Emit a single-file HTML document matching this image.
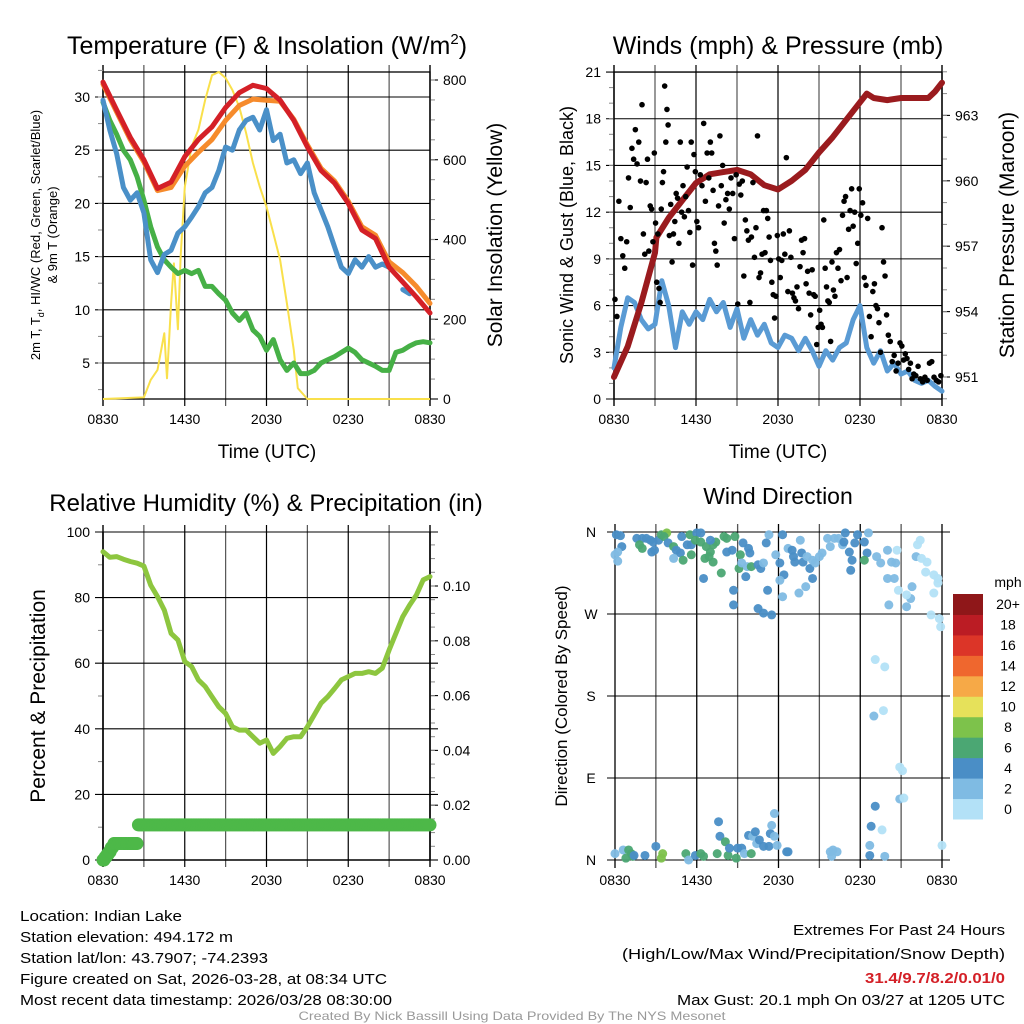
<!DOCTYPE html>
<html><head><meta charset="utf-8"><style>
html,body{margin:0;padding:0;background:#fff;}
svg{display:block;font-family:"Liberation Sans",sans-serif;}
</style></head><body>
<svg id="fig" width="1024" height="1024" viewBox="0 0 1024 1024" xmlns="http://www.w3.org/2000/svg">
<rect width="1024" height="1024" fill="#fff"/>
<g id="g1"></g>
<g id="g2"></g>
<g id="g3"></g>
<g id="g4"></g>
<g font-size="15" fill="#000">
<text x="20" y="921" textLength="162" lengthAdjust="spacingAndGlyphs">Location: Indian Lake</text>
<text x="20" y="942" textLength="213" lengthAdjust="spacingAndGlyphs">Station elevation: 494.172 m</text>
<text x="20" y="963" textLength="248" lengthAdjust="spacingAndGlyphs">Station lat/lon: 43.7907; -74.2393</text>
<text x="20" y="984" textLength="367" lengthAdjust="spacingAndGlyphs">Figure created on Sat, 2026-03-28, at 08:34 UTC</text>
<text x="20" y="1005" textLength="372" lengthAdjust="spacingAndGlyphs">Most recent data timestamp: 2026/03/28 08:30:00</text>
</g>
<g font-size="15" text-anchor="end">
<text x="1005" y="935" textLength="212" lengthAdjust="spacingAndGlyphs">Extremes For Past 24 Hours</text>
<text x="1005" y="959" textLength="383" lengthAdjust="spacingAndGlyphs">(High/Low/Max Wind/Precipitation/Snow Depth)</text>
<text x="1005" y="983" fill="#d42027" font-weight="bold" textLength="140" lengthAdjust="spacingAndGlyphs">31.4/9.7/8.2/0.01/0</text>
<text x="1005" y="1005" textLength="328" lengthAdjust="spacingAndGlyphs">Max Gust: 20.1 mph On 03/27 at 1205 UTC</text>
</g>
<text x="512" y="1020" font-size="12" fill="#999" text-anchor="middle" textLength="427" lengthAdjust="spacingAndGlyphs">Created By Nick Bassill Using Data Provided By The NYS Mesonet</text>
</svg>
<script>
// ---------- data ----------
const timeLabels = ["0830","1430","2030","0230","0830"];
const hourly = [0,1,2,3,4,5,6,7,8,9,10,11,12,13,14,15,16,17,18,19,20,21,22,23,24];
const tempRed = [31.4,28.8,26.2,24.1,21.4,22.0,24.4,26.0,27.2,29.0,30.4,31.1,30.8,29.7,27.8,25.3,23.1,21.9,20.0,17.5,16.7,14.0,12.6,11.2,9.7];
const temp9m = [31.2,28.6,26.0,23.9,21.2,21.5,23.5,24.8,26.0,27.8,29.2,29.8,29.7,29.6,27.9,25.5,23.3,22.1,20.2,17.8,17.0,14.5,13.5,12.2,10.6];
const halfHourly = [0,0.5,1,1.5,2,2.5,3,3.5,4,4.5,5,5.5,6,6.5,7,7.5,8,8.5,9,9.5,10,10.5,11,11.5,12,12.5,13,13.5,14,14.5,15,15.5,16,16.5,17,17.5,18,18.5,19,19.5,20,20.5,21,21.5,22,22.5,23,23.5,24];
const chillBlue = [29.7,26.9,24.7,21.5,20.3,21.0,19.1,14.7,13.5,15.2,15.6,17.2,17.8,18.7,19.7,21.0,21.5,23.1,25.3,25.0,26.9,27.8,28.1,26.9,28.8,25.9,26.5,23.8,24.1,22.8,23.8,21.0,19.4,17.8,15.9,14.0,13.4,14.7,14.0,15.0,14.0,14.3,14.0,null,11.9,11.5,null,null,null];
const dewGreen = [29.5,27.8,26.5,25.0,24.1,22.5,20.3,17.8,15.9,14.7,14.0,13.4,13.7,13.4,13.7,12.2,12.2,11.5,10.9,9.7,9.0,9.7,8.1,7.5,6.2,7.2,5.3,4.3,5.0,4.0,4.0,4.3,5.0,5.3,5.6,6.0,6.4,6.0,5.3,5.0,4.7,4.3,4.3,6.0,6.2,6.6,6.9,7.0,6.9];
const solarHours = [0,3,3.5,4,4.5,4.7,5,5.2,5.5,5.7,6,6.5,7,7.5,8,8.5,9,9.5,10,10.5,11,11.5,12,12.5,13,13.5,14,14.3,15,24];
const solarVals = [0,4,48,73,165,52,240,340,175,360,532,633,675,750,812,820,805,775,732,667,592,533,482,416,349,240,123,27,0,0];
const windBlue = [2.0,4.6,6.5,6.2,5.1,4.5,4.8,7.6,6.0,3.3,5.6,4.8,5.6,5.1,6.4,5.6,6.2,4.6,5.8,3.9,5.1,4.1,4.8,3.6,3.3,4.1,3.9,3.1,3.9,3.1,2.1,3.1,2.5,3.3,3.6,5.1,6.0,3.3,2.3,3.1,1.8,2.3,1.6,1.8,1.2,1.0,1.2,0.8,0.5];
const presHours = [0,1,2,3,3.1,4,5,6,7,8,9,10,11,12,13,14,15,16,17,18,18.5,19,20,21,22,23,23.5,24];
const presVals = [951.0,952.4,954.4,956.7,957.4,958.3,959.1,959.9,960.3,960.4,960.5,960.3,959.8,959.6,960.0,960.5,961.3,962.0,962.8,963.6,964.0,963.8,963.7,963.8,963.8,963.8,964.1,964.5];
const gustByHour = [
 [6.4,5.3,12.7,10.3,9.2,8.4,10.1],
 [14.2,12.3,16.1,15.4,17.3,15.1,16.5,14.0],
 [18.9,10.6,9.3,13.9,15.4,9.5,12.4,12.2,10.1,15.8],
 [11.3,7.5,10.6,7.1,6.2,12.2,13.9,14.6,20.1,16.5,18.6,17.6],
 [10.5,12.5,8.8,10.6,11.4,13.2,12.9,10.0,16.5,12.0],
 [13.7,11.7,13.0,14.9,12.1,10.7,16.5,8.6,15.7,14.6],
 [11.4,11.0,14.4,13.7,17.7,12.7,15.8,14.2],
 [16.5,15.8,13.4,10.0,9.5,8.6,12.4,16.9,13.7,15.0],
 [11.3,12.8,13.2,12.2,14.2,13.2,10.3,14.4],
 [6.1,13.8,13.1,14.0,7.9,11.5,10.8,10.2,6.2],
 [10.4,13.9,9.1,11.0,16.9,7.8,8.1,9.3,12.1],
 [9.4,12.1,11.6,10.4,8.9,7.5,6.7,5.2,6.6,10.5],
 [9.0,7.8,8.9,10.6,9.3,15.5,6.9,10.8,9.1],
 [6.8,6.5,6.3,7.2,5.8,8.5,10.2,9.4,10.3],
 [7.4,8.2,6.8,5.4,8.3,6.7,6.6,3.5,4.6],
 [5.7,4.8,4.6,11.5,8.4,7.2,6.3,6.2,3.7,8.8],
 [7.0,6.6,9.4,8.4,9.6,7.6,11.8,12.7,13.0],
 [7.8,10.9,12.1,13.5,11.1,12.0,8.7,10.0,13.5],
 [11.8,12.6,7.8,7.3,11.6,5.3,4.0,6.9],
 [7.4,6.0,5.8,4.9,3.0,11.0,8.8,7.9,5.4],
 [4.1,3.7,2.4,2.8,1.8,2.3,3.6],
 [3.4,2.5,2.9,2.6,1.9,2.3,1.3,1.6],
 [1.5,2.1,1.3,1.1,1.4,1.2],
 [2.3,2.4,1.4,1.2,1.1,1.5]];
const rhVals = [94.0,92.3,92.5,91.7,91.0,90.5,89.6,83.8,80.3,76.2,69.1,67.1,60.5,59.0,54.9,52.9,49.8,46.7,44.7,40.6,39.6,39.6,37.6,35.6,36.6,32.5,34.6,37.1,37.6,37.6,40.6,44.2,47.8,49.8,52.3,54.9,55.9,56.9,56.9,57.4,56.9,58.5,64.0,69.1,74.2,77.7,80.8,85.4,86.4];
const precipHours = [0,0.15,0.3,0.45,0.6,0.8,1,1.5,2,2.4,2.6,3,4,6,8,10,12,14,16,18,20,22,24];
const precipVals = [0,0.001,0.002,0.003,0.0045,0.006,0.006,0.006,0.006,0.006,0.0128,0.0128,0.0128,0.0128,0.0128,0.0128,0.0128,0.0128,0.0128,0.0128,0.0128,0.0128,0.0128];
// wind direction observations: [hour since 0830, degrees, speed mph]
const dirPoints = [
[0.1,357,4],[0.4,356,4],[0.5,344,4],[0.2,338,2],[0.0,335,2],[0.2,328,2],[1.6,353,4],[2.0,353,4],[2.3,353,4],[2.6,351,4],
[1.8,346,6],[2.0,342,6],[2.7,338,4],[2.9,340,4],[2.8,349,4],[3.2,351,4],[3.4,357,6],[3.8,359,8],[3.6,355,6],[3.9,348,4],
[4.3,344,6],[4.5,340,4],[4.8,337,4],[4.3,331,2],[5.0,329,6],[4.9,355,4],[5.3,346,4],[5.6,346,4],[5.5,357,6],[6.0,359,4],
[6.3,359,4],[5.9,351,6],[6.3,349,6],[5.6,335,6],[6.7,344,6],[7.0,338,6],[7.2,346,6],[7.4,349,6],[6.9,333,6],[7.2,327,6],
[6.6,331,6],[6.5,309,4],[7.0,351,4],[7.8,315,6],[8.0,355,6],[8.2,353,6],[8.8,355,6],[8.2,338,4],[8.6,340,4],[9.2,335,6],
[9.1,320,6],[9.4,348,4],[9.8,342,4],[9.9,337,4],[9.3,326,2],[9.7,322,2],[10.0,322,6],[10.5,324,4],[10.7,320,4],[10.9,326,2],
[9.6,311,4],[8.7,296,4],[8.7,280,4],[10.5,276,4],[10.9,271,4],[11.5,269,4],[11.2,296,4],[11.1,348,4],[11.3,357,2],[12.3,357,4],
[11.8,335,2],[12.1,326,4],[12.4,313,4],[12.1,307,2],[12.3,289,2],[13.5,293,2],[14.0,300,2],[14.5,309,4],[14.3,320,4],[12.7,342,2],
[13.0,340,4],[13.1,333,4],[13.2,327,4],[13.6,351,2],[13.7,337,4],[13.8,327,4],[14.1,333,2],[14.5,329,2],[14.7,326,2],[15.0,333,2],
[15.2,337,2],[15.6,353,2],[15.8,344,2],[16.1,353,2],[16.4,353,2],[16.7,346,2],[16.9,359,4],[16.8,349,4],[17.2,338,4],[17.4,329,4],
[17.3,318,4],[17.8,357,4],[17.6,348,4],[18.3,349,4],[18.5,337,4],[18.3,329,6],[18.6,359,2],[19.2,333,2],[19.5,326,2],[20.0,340,2],
[20.0,309,2],[20.3,327,2],[20.7,340,0],[20.6,326,2],[20.5,309,2],[20.8,296,0],[20.1,280,2],[21.4,278,2],[21.7,287,2],[21.8,300,2],
[21.4,291,0],[22.1,333,2],[22.2,346,0],[22.4,351,0],[22.5,331,0],[22.9,327,0],[22.8,316,0],[23.4,313,0],[23.7,304,0],[23.4,293,0],
[23.2,269,0],[23.8,265,0],[23.9,256,0],[23.7,309,0],
[0.0,7,2],[0.6,11,2],[1.0,11,6],[1.2,7,6],[1.3,4,6],[0.8,2,6],[1.4,5,4],[2.2,5,4],[3.0,15,4],[3.5,7,8],
[3.4,2,8],[5.2,7,6],[5.4,0,2],[5.9,5,4],[6.3,7,6],[6.5,4,6],[7.5,7,6],[7.6,42,4],[7.7,26,4],[8.1,20,6],
[8.3,5,6],[8.4,13,4],[8.9,2,6],[9.0,13,4],[9.3,13,4],[9.5,7,2],[10.0,7,6],[9.8,27,4],[10.1,26,2],[10.3,31,4],
[10.4,18,2],[10.6,22,4],[10.9,15,4],[11.3,15,4],[11.4,29,4],[11.5,38,2],[11.7,26,2],[11.9,16,2],[11.7,51,2],[12.6,9,4],
[12.7,9,4],[15.8,9,2],[16.0,11,2],[16.3,9,2],[15.9,4,2],[18.7,5,4],[18.7,16,2],[18.8,37,4],[19.1,59,4],[19.6,33,0],
[19.8,4,2],[24.0,16,0],[19.1,220,0],[19.8,212,0],[19.0,158,2],[19.7,164,0],[20.9,102,0],[21.1,98,0],[20.9,67,2],[21.2,68,0]];
const speedBinLabels = ["0","2","4","6","8","10","12","14","16","18","20+"];
const speedColors = ["#b3e1f7","#7fbbe3","#4a8ec6","#4ba773","#7dc24b","#e6e15a","#f6a947","#ef672e","#dc3528","#bb1c24","#8f1719"];

// ---------- helpers ----------
const NS="http://www.w3.org/2000/svg";
function mk(parent,tag,attrs,txt){const e=document.createElementNS(NS,tag);for(const k in attrs)e.setAttribute(k,attrs[k]);if(txt!==undefined)e.textContent=txt;parent.appendChild(e);return e;}
function xScale(P,h){return P.x0+h*(P.x1-P.x0)/24;}
function pathD(xs,ys){let d="",pen=false;for(let i=0;i<xs.length;i++){if(ys[i]===null||ys[i]===undefined){pen=false;continue;}d+=(pen?"L":"M")+xs[i].toFixed(1)+" "+ys[i].toFixed(1);pen=true;}return d;}

function frame(g,P,leftTicks,leftFn,leftFmt,leftMinor,rightTicks,rightFn,rightFmt,rightMinor,box){
  const ax=mk(g,"g",{});
  
  
  for(let h=0;h<=24;h+=3){const x=xScale(P,h);
    const l=mk(ax,"line",{x1:x,x2:x,y1:P.y0-7,y2:P.y1+7,stroke:(h%6===0?"#000":"#555"),"stroke-width":(h===0||h===24)?1.4:1.2});
    
    }
  leftTicks.forEach((v,i)=>{const y=leftFn(v);
    const l=mk(ax,"line",{x1:P.x0-8,x2:P.x1+(box?0:8),y1:y,y2:y,stroke:"#000","stroke-width":1.1});
    
    
    const t=mk(ax,"text",{x:P.x0-13,y:y+5,"font-size":14,"text-anchor":"end"},leftFmt[i]);
    
    });
  leftMinor.forEach(v=>{const y=leftFn(v);mk(ax,"line",{x1:P.x0-5,x2:P.x0,y1:y,y2:y,stroke:"#888","stroke-width":1});});
  if(rightTicks){rightTicks.forEach((v,i)=>{const y=rightFn(v);
    mk(ax,"line",{x1:P.x1,x2:P.x1+8,y1:y,y2:y,stroke:"#000","stroke-width":1.1});
    const t=mk(ax,"text",{x:P.x1+13,y:y+5,"font-size":14},rightFmt[i]);
    
    });
    rightMinor.forEach(v=>{const y=rightFn(v);mk(ax,"line",{x1:P.x1,x2:P.x1+5,y1:y,y2:y,stroke:"#888","stroke-width":1});});}
  if(box){mk(ax,"rect",{x:P.x0,y:P.y0,width:P.x1-P.x0,height:P.y1-P.y0,fill:"none",stroke:"#000","stroke-width":1.3});}
  timeLabels.forEach((s,i)=>{const t=mk(ax,"text",{x:xScale(P,i*6),y:P.y1+25,"font-size":14,"text-anchor":"middle"},s);
    
    });
}
function title(g,x,y,txt,size,name){const t=mk(g,"text",{x:x,y:y,"font-size":size,"text-anchor":"middle"},txt);return t;}
function vtitle(g,x,y,txt,size,name){const t=mk(g,"text",{x:x,y:y,"font-size":size,"text-anchor":"middle",transform:"rotate(-90 "+x+" "+y+")"},txt);return t;}
function seq(a,b,s){const r=[];for(let v=a;v<=b+1e-9;v+=s)r.push(+v.toFixed(4));return r;}

// ---------- panel 1 ----------
(function(){
const g=document.getElementById("g1");
const P={x0:103,x1:430,y0:72,y1:399};
const yL=v=>363-(v-5)*10.64, yR=v=>399-v*0.39875;
const lt=[5,10,15,20,25,30];
frame(g,P,lt,yL,lt.map(String),seq(2.5,32.5,2.5),[0,200,400,600,800],yR,["0","200","400","600","800"],seq(50,800,50),true);
const xs=hourly.map(h=>xScale(P,h)), xh=halfHourly.map(h=>xScale(P,h));
let p;
p=mk(g,"path",{d:pathD(solarHours.map(h=>xScale(P,h)),solarVals.map(yR)),fill:"none",stroke:"#f9e04b","stroke-width":2,"stroke-linejoin":"round"});


p=mk(g,"path",{d:pathD(xh,dewGreen.map(yL)),fill:"none",stroke:"#46b046","stroke-width":5,"stroke-linejoin":"round","stroke-linecap":"round"});


p=mk(g,"path",{d:pathD(xh,chillBlue.map(v=>v===null?null:yL(v))),fill:"none",stroke:"#4a90c8","stroke-width":5,"stroke-linejoin":"round","stroke-linecap":"round"});


p=mk(g,"path",{d:pathD(xs,temp9m.map(yL)),fill:"none",stroke:"#f68b2c","stroke-width":5,"stroke-linejoin":"round","stroke-linecap":"round"});


p=mk(g,"path",{d:pathD(xs,tempRed.map(yL)),fill:"none",stroke:"#d42027","stroke-width":5,"stroke-linejoin":"round","stroke-linecap":"round"});


const t=title(g,267,54,"Temperature (F) & Insolation (W/m",25,"temperature-title");
mk(t,"tspan",{"font-size":15,dy:-10},"2");mk(t,"tspan",{dy:10},")");
const lt1=vtitle(g,40,235,"",13,"left-axis-title");
lt1.appendChild(document.createTextNode("2m T, T"));
mk(lt1,"tspan",{"font-size":9,dy:4},"d");
mk(lt1,"tspan",{dy:-4},", HI/WC (Red, Green, Scarlet/Blue)");
vtitle(g,57,235,"& 9m T (Orange)",13,"left-axis-title-2");
vtitle(g,502,235,"Solar Insolation (Yellow)",21,"solar-axis-title");
title(g,267,458,"Time (UTC)",19,"x-axis-title");
})();

// ---------- panel 2 ----------
(function(){
const g=document.getElementById("g2");
const P={x0:614,x1:942,y0:72,y1:399};
const yL=v=>399-v*15.57, yR=p=>377-(p-951)*21.8;
const lt=[0,3,6,9,12,15,18,21];
frame(g,P,lt,yL,lt.map(String),seq(1,20,1),[951,954,957,960,963],yR,["951","954","957","960","963"],seq(950,965,1),true);
let p=mk(g,"path",{d:pathD(halfHourly.map(h=>xScale(P,h)),windBlue.map(yL)),fill:"none",stroke:"#5a9bd4","stroke-width":5,"stroke-linejoin":"round","stroke-linecap":"round"});


p=mk(g,"path",{d:pathD(presHours.map(h=>xScale(P,h)),presVals.map(yR)),fill:"none",stroke:"#9a1b1e","stroke-width":6,"stroke-linejoin":"round","stroke-linecap":"round"});


const gg=mk(g,"g",{fill:"#000"});


gustByHour.forEach((arr,h)=>arr.forEach((v,i)=>{const c=mk(gg,"circle",{cx:xScale(P,h+(i+0.5)/arr.length),cy:yL(v),r:2.8});

}));
title(g,778,54,"Winds (mph) & Pressure (mb)",25,"winds-title");
vtitle(g,573,235,"Sonic Wind & Gust (Blue, Black)",18,"wind-axis-title");
vtitle(g,1014,235,"Station Pressure (Maroon)",21,"pressure-axis-title");
title(g,778,458,"Time (UTC)",19,"x-axis-title-2");
})();

// ---------- panel 3 ----------
(function(){
const g=document.getElementById("g3");
const P={x0:103,x1:430,y0:532,y1:860};
const yL=v=>860-v*3.28, yR=p=>860-p*2740;
const lt=[0,20,40,60,80,100];
frame(g,P,lt,yL,lt.map(String),seq(10,90,20),[0,0.02,0.04,0.06,0.08,0.1],yR,["0.00","0.02","0.04","0.06","0.08","0.10"],seq(0.005,0.115,0.005),false);
mk(g,"line",{x1:P.x0,x2:P.x0,y1:P.y0,y2:P.y1,stroke:"#000","stroke-width":1.5});
mk(g,"line",{x1:P.x1,x2:P.x1,y1:P.y0,y2:P.y1,stroke:"#000","stroke-width":1.5});
mk(g,"line",{x1:P.x0,x2:P.x1,y1:P.y1,y2:P.y1,stroke:"#000","stroke-width":1.5});
let p=mk(g,"path",{d:pathD(halfHourly.map(h=>xScale(P,h)),rhVals.map(yL)),fill:"none",stroke:"#8dc63f","stroke-width":5,"stroke-linejoin":"round","stroke-linecap":"round"});


const pg=mk(g,"g",{fill:"#4db848"});


for(let i=0;i<precipHours.length-1;i++){const a=precipHours[i],b=precipHours[i+1];const n=Math.max(2,Math.ceil((b-a)*8));
  for(let k=0;k<n;k++){const h=a+(b-a)*k/n;const c=mk(pg,"circle",{cx:xScale(P,h),cy:yR(precipVals[i]),r:6.5});
  
  }}
const last=mk(pg,"circle",{cx:xScale(P,24),cy:yR(precipVals[precipVals.length-1]),r:6.5});


title(g,266,511,"Relative Humidity (%) & Precipitation (in)",24,"humidity-title");
vtitle(g,45,696,"Percent & Precipitation",21,"humidity-axis-title");
})();

// ---------- panel 4 ----------
(function(){
const g=document.getElementById("g4");
const P={x0:615,x1:942,y0:532,y1:860};
const yD=d=>860-d*328/360;
const ax=mk(g,"g",{});


for(let h=0;h<=24;h+=3){const x=xScale(P,h);mk(ax,"line",{x1:x,x2:x,y1:P.y0-8,y2:P.y1+8,stroke:(h%6===0?"#000":"#555"),"stroke-width":1.3});}
const dl=["N","E","S","W","N"];
[0,90,180,270,360].forEach((d,i)=>{const y=yD(d);mk(ax,"line",{x1:607,x2:950,y1:y,y2:y,stroke:"#000","stroke-width":1.1});
 const t=mk(ax,"text",{x:591,y:y+5,"font-size":14,"text-anchor":"middle"},dl[i]);
 
 });
timeLabels.forEach((s,i)=>{const t=mk(ax,"text",{x:xScale(P,i*6),y:P.y1+25,"font-size":14,"text-anchor":"middle"},s);
 
 });
const pg=mk(g,"g",{"fill-opacity":0.95});


dirPoints.forEach(pt=>{const idx=Math.min(10,Math.floor(pt[2]/2));
 const c=mk(pg,"circle",{cx:xScale(P,pt[0]),cy:yD(pt[1]),r:4.5,fill:speedColors[idx]});
 
 });
const cb=mk(g,"g",{});


const top=594,bot=819,hh=(bot-top)/11;
speedColors.forEach((c,i)=>{const y=bot-(i+1)*hh;mk(cb,"rect",{x:953,y:y,width:30,height:hh+0.5,fill:c});
 const t=mk(cb,"text",{x:1008,y:y+hh/2+5,"font-size":14,"text-anchor":"middle"},speedBinLabels[i]);
 
 });
const u=mk(cb,"text",{x:1008,y:587,"font-size":14,"text-anchor":"middle"},"mph");


title(g,778,504,"Wind Direction",23,"wind-direction-title");
vtitle(g,567,696,"Direction (Colored By Speed)",17,"direction-axis-title");
})();
</script>
</body></html>
